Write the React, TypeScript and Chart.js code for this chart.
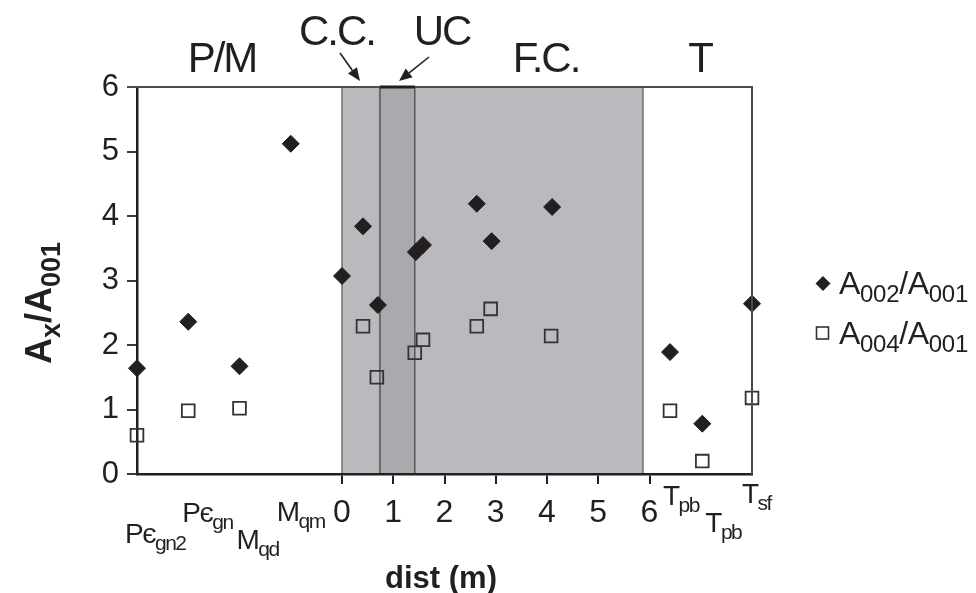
import { useEffect, useRef } from 'react';
import { Chart, registerables } from 'chart.js';
Chart.register(...registerables);

// ---- data ----
const A002_X = [-4, -3, -2, -1, 0, 0.41, 0.7, 1.44, 1.58, 2.63, 2.92, 4.1, 6.4, 7.03, 8];
const A002_Y = [1.64, 2.36, 1.67, 5.12, 3.07, 3.84, 2.62, 3.44, 3.55, 4.19, 3.61, 4.14, 1.89, 0.78, 2.64];
const A004_X = [-4, -3, -2, 0.41, 0.68, 1.42, 1.58, 2.63, 2.9, 4.08, 6.4, 7.03, 8];
const A004_Y = [0.6, 0.98, 1.02, 2.29, 1.5, 1.88, 2.08, 2.29, 2.56, 2.14, 0.98, 0.2, 1.18];
const X_TICK_VALUES = [0, 1, 2, 3, 4, 5, 6];
const Y_MIN = 0;
const Y_MAX = 6;
const X_MIN = -4;
const X_MAX = 8;
const ZONE_CC = [0, 0.74];
const ZONE_UC = [0.74, 1.42];
const ZONE_FC = [1.42, 5.87];
const UNIT_MAIN = ['Pє', 'Pє', 'M', 'M', 'T', 'T', 'T'];
const UNIT_SUB = ['gn2', 'gn', 'qd', 'qm', 'pb', 'pb', 'sf'];
const UNIT_X = [-4, -3, -2, -1, 6.4, 7.03, 8];
const ZONE_TITLES = ['P/M', 'C.C.', 'UC', 'F.C.', 'T'];

// ---- layout (pixels) ----
const UNIT_DX = [-12, -6, -3, -14, -7, 3, -10];
const UNIT_BASE = [543, 522, 549, 521, 505, 532, 503];
const TITLE_POS = [[222, 72], [337, 45], [442, 45], [546, 72], [700, 72]];

const INK = '#231f20';
const FONT = '"Liberation Sans", Arial, sans-serif';

type Part = { t: string; sub?: boolean };

function drawRich(ctx: CanvasRenderingContext2D, parts: Part[], x: number, y: number, size: number, subSize: number, bold: boolean, align: 'left' | 'center', spacing = 0) {
  const w = bold ? 'bold ' : '';
  ctx.save();
  (ctx as any).letterSpacing = spacing + 'px';
  let total = 0;
  for (const p of parts) {
    ctx.font = `${w}${p.sub ? subSize : size}px ${FONT}`;
    total += ctx.measureText(p.t).width;
  }
  let cx = align === 'center' ? x - total / 2 : x;
  ctx.textBaseline = 'alphabetic';
  ctx.textAlign = 'left';
  ctx.fillStyle = INK;
  for (const p of parts) {
    ctx.font = `${w}${p.sub ? subSize : size}px ${FONT}`;
    ctx.fillText(p.t, cx, p.sub ? y + size * 0.26 : y);
    cx += ctx.measureText(p.t).width;
  }
  ctx.restore();
}

function arrow(ctx: CanvasRenderingContext2D, x1: number, y1: number, x2: number, y2: number) {
  const ang = Math.atan2(y2 - y1, x2 - x1);
  const hl = 13, hw = 5.5;
  const bx = x2 - hl * Math.cos(ang), by = y2 - hl * Math.sin(ang);
  ctx.save();
  ctx.strokeStyle = INK;
  ctx.fillStyle = INK;
  ctx.lineWidth = 1.6;
  ctx.beginPath();
  ctx.moveTo(x1, y1);
  ctx.lineTo(bx, by);
  ctx.stroke();
  ctx.beginPath();
  ctx.moveTo(x2, y2);
  ctx.lineTo(bx + hw * Math.sin(ang), by - hw * Math.cos(ang));
  ctx.lineTo(bx - hw * Math.sin(ang), by + hw * Math.cos(ang));
  ctx.closePath();
  ctx.fill();
  ctx.restore();
}

const zonesPlugin = {
  id: 'zones',
  beforeDraw(chart: any) {
    const { ctx, chartArea: a, scales } = chart;
    const xs = scales.x;
    const px = (v: number) => xs.getPixelForValue(v);
    ctx.save();
    ctx.fillStyle = '#b9babd';
    ctx.fillRect(px(ZONE_CC[0]), a.top, px(ZONE_CC[1]) - px(ZONE_CC[0]), a.bottom - a.top);
    ctx.fillRect(px(ZONE_FC[0]), a.top, px(ZONE_FC[1]) - px(ZONE_FC[0]), a.bottom - a.top);
    ctx.fillStyle = '#a9aaad';
    ctx.fillRect(px(ZONE_UC[0]), a.top, px(ZONE_UC[1]) - px(ZONE_UC[0]), a.bottom - a.top);
    const vline = (x: number, c: string, w: number) => {
      ctx.strokeStyle = c; ctx.lineWidth = w;
      ctx.beginPath(); ctx.moveTo(x, a.top); ctx.lineTo(x, a.bottom); ctx.stroke();
    };
    vline(px(ZONE_CC[0]), '#6d6e71', 1.5);
    vline(px(ZONE_UC[0]), '#3a3a3c', 1.2);
    vline(px(ZONE_UC[1]), '#58595b', 1.5);
    vline(px(ZONE_FC[1]), '#808285', 2);
    ctx.restore();
  },
  afterDraw(chart: any) {
    const { ctx, chartArea: a, scales } = chart;
    const xs = scales.x;
    const px = (v: number) => xs.getPixelForValue(v);
    ctx.save();
    ctx.strokeStyle = '#4d4d4f';
    ctx.lineWidth = 2;
    ctx.beginPath();
    ctx.moveTo(a.left - 10, a.top);
    ctx.lineTo(a.right, a.top);
    ctx.lineTo(a.right, a.bottom);
    ctx.stroke();
    ctx.strokeStyle = INK;
    ctx.lineWidth = 3;
    ctx.beginPath();
    ctx.moveTo(px(ZONE_UC[0]), a.top);
    ctx.lineTo(px(ZONE_UC[1]), a.top);
    ctx.stroke();
    ctx.restore();

    ZONE_TITLES.forEach((t, i) => {
      drawRich(ctx, [{ t }], TITLE_POS[i][0], TITLE_POS[i][1], 42, 30, false, 'center', -2);
    });
    arrow(ctx, 340, 53, 360, 81);
    arrow(ctx, 429, 57, 399, 81);

    UNIT_MAIN.forEach((m, i) => {
      drawRich(ctx, [{ t: m }, { t: UNIT_SUB[i], sub: true }], px(UNIT_X[i]) + UNIT_DX[i], UNIT_BASE[i], 28, 21, false, 'left', -1.5);
    });

    // y axis title (rotated), starting at bottom
    ctx.save();
    ctx.translate(51, 364);
    ctx.rotate(-Math.PI / 2);
    drawRich(ctx, [{ t: 'A' }, { t: 'x', sub: true }, { t: '/A' }, { t: '001', sub: true }], 0, 0, 36, 27, true, 'left');
    ctx.restore();

    drawRich(ctx, [{ t: 'dist (m)' }], 441, 588, 31, 22, true, 'center');

    ctx.save();
    ctx.fillStyle = INK;
    ctx.beginPath();
    ctx.moveTo(823, 276); ctx.lineTo(830.5, 283.5); ctx.lineTo(823, 291); ctx.lineTo(815.5, 283.5);
    ctx.closePath(); ctx.fill();
    ctx.strokeStyle = '#333'; ctx.lineWidth = 1.6;
    ctx.strokeRect(816.5, 327, 12, 12);
    ctx.restore();
    drawRich(ctx, [{ t: 'A' }, { t: '002', sub: true }, { t: '/A' }, { t: '001', sub: true }], 839, 294, 32, 24, false, 'left', -0.3);
    drawRich(ctx, [{ t: 'A' }, { t: '004', sub: true }, { t: '/A' }, { t: '001', sub: true }], 839, 344, 32, 24, false, 'left', -0.3);
  },
};

export default function App() {
  const ref = useRef<HTMLCanvasElement>(null);
  useEffect(() => {
    const chart = new Chart(ref.current!, {
      type: 'scatter',
      data: {
        datasets: [
          {
            label: 'A002/A001',
            data: A002_X.map((x, i) => ({ x, y: A002_Y[i] })),
            pointStyle: 'rectRot',
            pointRadius: 8.5,
            backgroundColor: INK,
            borderColor: INK,
            borderWidth: 1,
            clip: false as any,
          },
          {
            label: 'A004/A001',
            data: A004_X.map((x, i) => ({ x, y: A004_Y[i] })),
            pointStyle: 'rect',
            pointRadius: 9,
            backgroundColor: 'rgba(0,0,0,0)',
            borderColor: '#333333',
            borderWidth: 1.8,
            clip: false as any,
          },
        ],
      },
      options: {
        responsive: false,
        animation: false,
        layout: { padding: { top: 87, right: 224, left: 0, bottom: 0 } },
        plugins: { legend: { display: false }, tooltip: { enabled: false } },
        scales: {
          x: {
            type: 'linear',
            min: X_MIN,
            max: X_MAX,
            afterBuildTicks: (s: any) => {
              const t = [];
              for (let v = X_MIN; v <= X_MAX; v++) t.push({ value: v });
              s.ticks = t;
            },
            afterFit: (s: any) => { s.height = 119; },
            ticks: {
              autoSkip: false,
              maxRotation: 0,
              padding: 10,
              color: INK,
              font: { family: FONT, size: 32 },
              callback: (v: any) => (X_TICK_VALUES.includes(Number(v)) ? String(v) : ''),
            },
            grid: {
              drawOnChartArea: false,
              drawTicks: true,
              tickLength: 10,
              lineWidth: 2,
              color: (c: any) => (c.tick && X_TICK_VALUES.includes(c.tick.value) ? INK : 'rgba(0,0,0,0)'),
            },
            border: { display: true, color: INK, width: 2.5 },
          },
          y: {
            min: Y_MIN,
            max: Y_MAX,
            afterFit: (s: any) => { s.width = 137; },
            ticks: {
              stepSize: 1,
              padding: 8,
              color: INK,
              font: { family: FONT, size: 31 },
            },
            grid: {
              drawOnChartArea: false,
              drawTicks: true,
              tickLength: 10,
              lineWidth: 2,
              color: '#3a3a3c',
            },
            border: { display: true, color: INK, width: 2.5 },
          },
        },
      },
      plugins: [zonesPlugin],
    });
    return () => chart.destroy();
  }, []);
  return (
    <div style={{ position: 'fixed', left: 0, top: 0, width: 976, height: 593, background: '#fff' }}>
      <canvas ref={ref} width={976} height={593} style={{ display: 'block' }} />
    </div>
  );
}
